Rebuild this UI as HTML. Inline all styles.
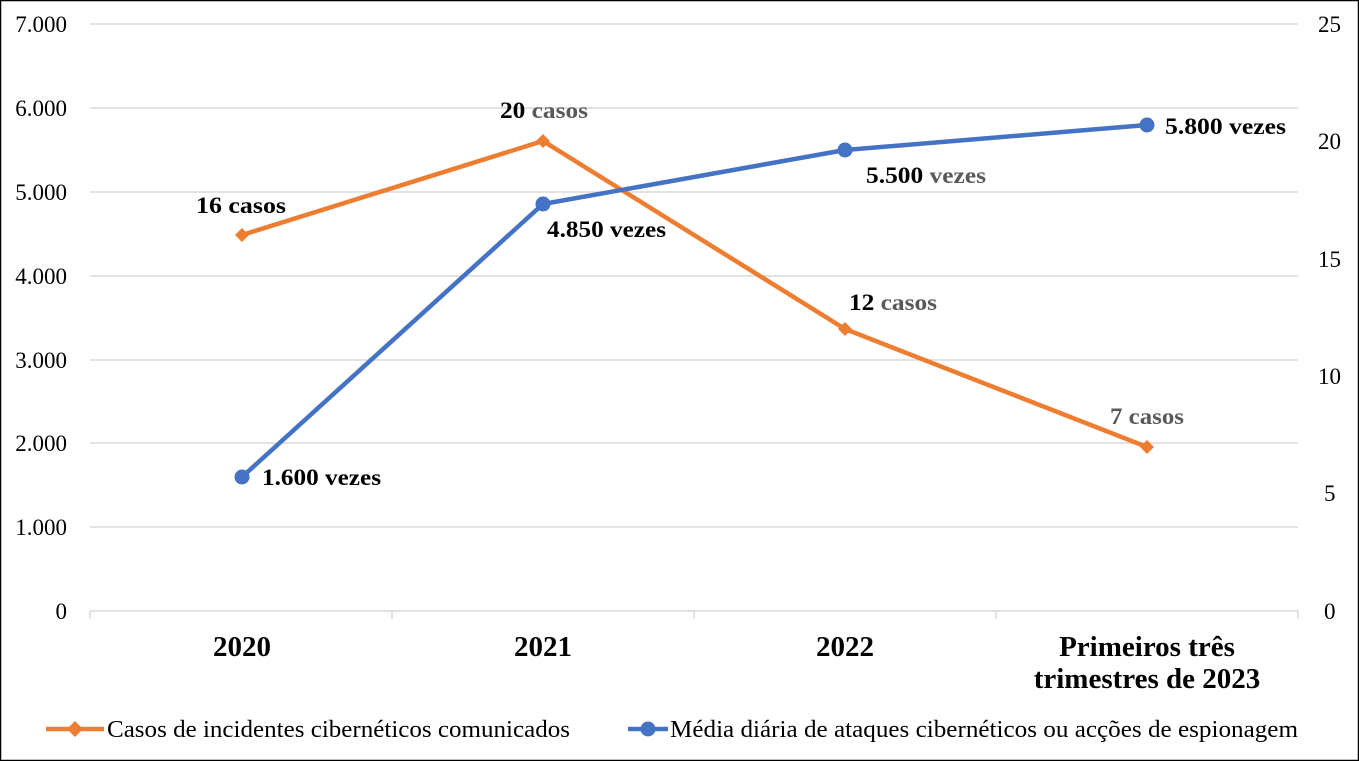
<!DOCTYPE html>
<html><head><meta charset="utf-8"><style>body{margin:0;background:#fff}svg{display:block}</style></head>
<body>
<svg width="1359" height="761" xmlns="http://www.w3.org/2000/svg" font-family="'Liberation Serif', serif">
<rect x="0.5" y="0.5" width="1358" height="760" fill="#fff" stroke="#000" stroke-width="1.5"/>
<g stroke="#d9d9d9" stroke-width="1.5">
<line x1="90" y1="24" x2="1298" y2="24"/><line x1="90" y1="108" x2="1298" y2="108"/>
<line x1="90" y1="192" x2="1298" y2="192"/><line x1="90" y1="276" x2="1298" y2="276"/>
<line x1="90" y1="360" x2="1298" y2="360"/><line x1="90" y1="443" x2="1298" y2="443"/>
<line x1="90" y1="527" x2="1298" y2="527"/><line x1="90" y1="611" x2="1298" y2="611"/>
<line x1="90" y1="611" x2="90" y2="619"/><line x1="392" y1="611" x2="392" y2="619"/>
<line x1="694" y1="611" x2="694" y2="619"/><line x1="996" y1="611" x2="996" y2="619"/>
<line x1="1298" y1="611" x2="1298" y2="619"/>
</g>
<g font-size="23" fill="#000" text-anchor="end">
<text x="67" y="32">7.000</text><text x="67" y="116">6.000</text><text x="67" y="200">5.000</text>
<text x="67" y="284">4.000</text><text x="67" y="368">3.000</text><text x="67" y="451">2.000</text>
<text x="67" y="535">1.000</text><text x="67" y="619">0</text>
</g>
<g font-size="23" fill="#000" text-anchor="start">
<text x="1318" y="32">25</text><text x="1318" y="149">20</text><text x="1318" y="267">15</text>
<text x="1318" y="384">10</text><text x="1324" y="501">5</text><text x="1324" y="619">0</text>
</g>
<g font-size="29" font-weight="bold" text-anchor="middle">
<text x="242" y="656">2020</text><text x="543" y="656">2021</text><text x="845" y="656">2022</text>
<text x="1147" y="656">Primeiros três</text><text x="1147" y="688">trimestres de 2023</text>
</g>
<polyline points="242,235 543,141 845,329 1147,447" fill="none" stroke="#ed7d31" stroke-width="4.5"/>
<g fill="#ed7d31">
<polygon points="242,228 249,235 242,242 235,235"/><polygon points="543,134 550,141 543,148 536,141"/>
<polygon points="845,322 852,329 845,336 838,329"/><polygon points="1147,440 1154,447 1147,454 1140,447"/>
</g>
<polyline points="242,477 543,204 845,150 1147,125" fill="none" stroke="#4472c4" stroke-width="4.5"/>
<g fill="#4472c4">
<circle cx="242" cy="477" r="7.5"/><circle cx="543" cy="204" r="7.5"/><circle cx="845" cy="150" r="7.5"/><circle cx="1147" cy="125" r="7.5"/>
</g>
<g font-size="23" font-weight="bold">
<text x="196" y="213" textLength="90" lengthAdjust="spacingAndGlyphs">16 casos</text>
<text x="500" y="118" textLength="88" lengthAdjust="spacingAndGlyphs">20 <tspan fill="#595959">casos</tspan></text>
<text x="849" y="310" textLength="88" lengthAdjust="spacingAndGlyphs">12 <tspan fill="#595959">casos</tspan></text>
<text x="1110" y="424" fill="#595959" textLength="74" lengthAdjust="spacingAndGlyphs">7 casos</text>
<text x="262" y="485" textLength="119" lengthAdjust="spacingAndGlyphs">1.600 vezes</text>
<text x="547" y="237" textLength="119" lengthAdjust="spacingAndGlyphs">4.850 vezes</text>
<text x="866" y="183" textLength="120" lengthAdjust="spacingAndGlyphs">5.500 <tspan fill="#595959">vezes</tspan></text>
<text x="1165" y="134" textLength="121" lengthAdjust="spacingAndGlyphs">5.800 vezes</text>
</g>
<line x1="46" y1="729" x2="104" y2="729" stroke="#ed7d31" stroke-width="4.5"/>
<polygon points="75,721 83,729 75,737 67,729" fill="#ed7d31"/>
<line x1="628" y1="729" x2="668" y2="729" stroke="#4472c4" stroke-width="4.5"/>
<circle cx="648" cy="729" r="7.5" fill="#4472c4"/>
<g font-size="24">
<text x="107" y="737" textLength="463" lengthAdjust="spacingAndGlyphs">Casos de incidentes cibernéticos comunicados</text>
<text x="670" y="737" textLength="628" lengthAdjust="spacingAndGlyphs">Média diária de ataques cibernéticos ou acções de espionagem</text>
</g>
</svg>
</body></html>
